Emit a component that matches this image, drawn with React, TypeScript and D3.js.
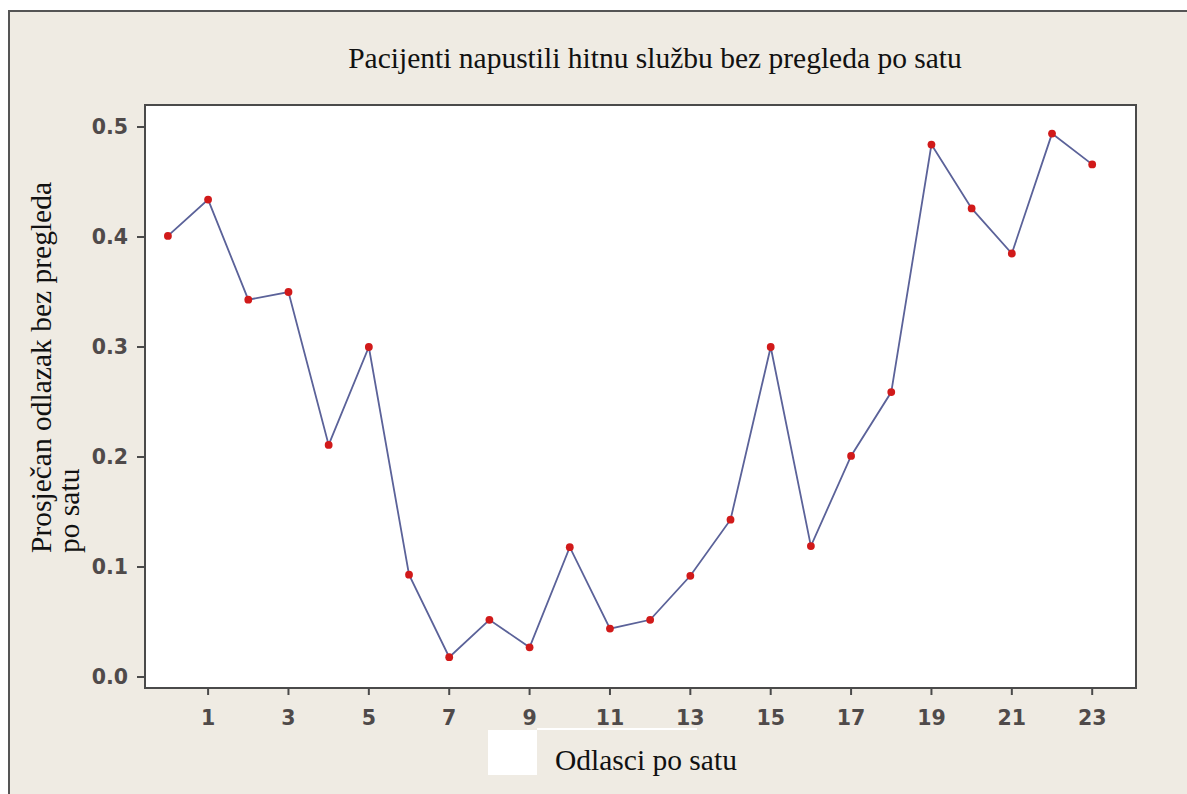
import React from "react";
import * as d3 from "d3";

const hours: number[] = [0,1,2,3,4,5,6,7,8,9,10,11,12,13,14,15,16,17,18,19,20,21,22,23];
const values: number[] = [0.401,0.434,0.343,0.35,0.211,0.30,0.093,0.018,0.052,0.027,0.118,0.044,0.052,0.092,0.143,0.30,0.119,0.201,0.259,0.484,0.426,0.385,0.494,0.466];
const xTicks: number[] = [1,3,5,7,9,11,13,15,17,19,21,23];
const yTicks: number[] = [0,0.1,0.2,0.3,0.4,0.5];
const title = "Pacijenti napustili hitnu službu bez pregleda po satu";
const yLabel1 = "Prosječan odlazak bez pregleda";
const yLabel2 = "po satu";
const xLabel = "Odlasci po satu";

export default function App() {
  const W = 1187, H = 794;
  const left = 145, right = 1136, top = 105, bottom = 688;
  const x = d3.scaleLinear().domain([-0.57, 24.09]).range([left, right]);
  const y = d3.scaleLinear().domain([-0.01, 0.52]).range([bottom, top]);
  const pts = hours.map((h, i) => [h, values[i]] as [number, number]);
  const line = d3.line<[number, number]>().x(d => x(d[0])).y(d => y(d[1]));
  const serif = "'Liberation Serif', 'Times New Roman', serif";
  const sans = "'DejaVu Sans', Verdana, sans-serif";
  const tickColor = "#4f4a4a";
  return (
    <svg width={W} height={H} style={{ position: "absolute", left: 0, top: 0, background: "#fff" }}>
      <rect x={9} y={11} width={W + 20} height={H + 20} fill="#efebe3" stroke="#555" strokeWidth={2} />
      <text x={655} y={68} textAnchor="middle" fontFamily={serif} fontSize={29.5} fill="#111">{title}</text>
      <rect x={left} y={top} width={right - left} height={bottom - top} fill="#fff" stroke="#4a4a4a" strokeWidth={2} />
      {yTicks.map(t => (
        <g key={"y" + t}>
          <line x1={left - 8} x2={left} y1={y(t)} y2={y(t)} stroke="#4a4a4a" strokeWidth={2} />
          <text x={128} y={y(t)} dy="0.36em" textAnchor="end" fontFamily={sans} fontWeight="bold" fontSize={20.5} fill={tickColor}>{t.toFixed(1)}</text>
        </g>
      ))}
      {xTicks.map(t => (
        <g key={"x" + t}>
          <line x1={x(t)} x2={x(t)} y1={bottom} y2={bottom + 7} stroke="#4a4a4a" strokeWidth={2} />
          <text x={x(t)} y={725} textAnchor="middle" fontFamily={sans} fontWeight="bold" fontSize={20.5} fill={tickColor}>{t}</text>
        </g>
      ))}
      <path d={line(pts) || ""} fill="none" stroke="#5b6299" strokeWidth={1.8} />
      {pts.map((p, i) => (
        <circle key={i} cx={x(p[0])} cy={y(p[1])} r={3.9} fill="#d11a1a" />
      ))}
      <g transform="translate(51,553) rotate(-90)">
        <text x={0} y={0} fontFamily={serif} fontSize={29.5} fill="#111">{yLabel1}</text>
        <text x={0} y={28} fontFamily={serif} fontSize={29.5} fill="#111">{yLabel2}</text>
      </g>
      <rect x={488} y={730} width={49} height={45} fill="#fff" />
      <rect x={537} y={728} width={160} height={2} fill="#fff" />
      <text x={555} y={770} fontFamily={serif} fontSize={29.5} fill="#111">{xLabel}</text>
    </svg>
  );
}
